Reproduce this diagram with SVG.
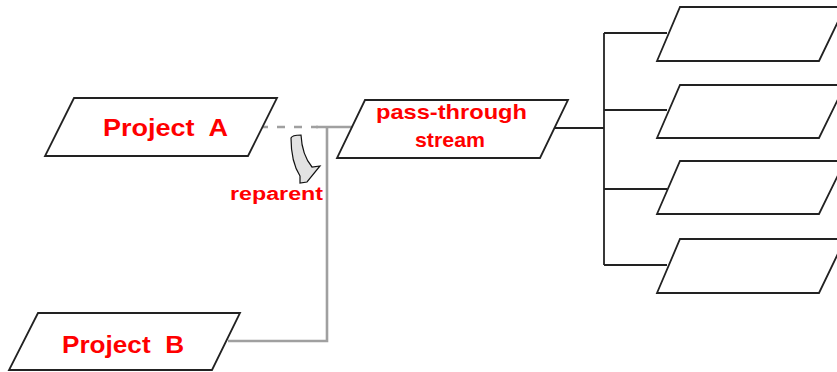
<svg xmlns="http://www.w3.org/2000/svg" width="837" height="372" viewBox="0 0 837 372">
<style>
.box{fill:#fff;stroke:#222;stroke-width:1.8}
.lbl{font-family:"Liberation Sans",Arial,sans-serif;font-weight:bold;fill:#ff0000;white-space:pre}
.blk{fill:none;stroke:#222;stroke-width:1.8}
.gry{fill:none;stroke:#a0a0a0;stroke-width:2.6}
</style>
<rect width="837" height="372" fill="#fff"/>
<g id="connectors">
<path class="gry" d="M260,127 H318" stroke-dasharray="8,9"/>
<path class="gry" d="M316,127 H357"/>
<path class="gry" d="M228,341 H327 V127"/>
<path class="blk" d="M553,128 H604"/>
<path class="blk" d="M604,33 V265"/>
<path class="blk" d="M604,33 H667 M604,110 H667 M604,189 H667 M604,265 H667"/>
</g>
<g id="reparent-arrow">
<path d="M291,138 Q292,135 301,135 Q302,155 312,167 L320,166 L307,182 L300,183 L300,176 Q291,162 291,138 Z" fill="#e2e2e2" stroke="#111" stroke-width="1.2"/>
<text class="lbl" x="230" y="200" font-size="18" textLength="93" lengthAdjust="spacingAndGlyphs">reparent</text>
</g>
<g id="projectA">
<polygon class="box" points="74,98 277,98 248,156 45,156"/>
<text class="lbl" x="103" y="136" font-size="24" textLength="125" lengthAdjust="spacingAndGlyphs" xml:space="preserve">Project  A</text>
</g>
<g id="projectB">
<polygon class="box" points="38,313 240,313 212,370 9,370"/>
<text class="lbl" x="62" y="353" font-size="24" textLength="122" lengthAdjust="spacingAndGlyphs" xml:space="preserve">Project  B</text>
</g>
<g id="passthrough">
<polygon class="box" points="365,100 568,100 540,158 337,158"/>
<text class="lbl" x="376" y="119" font-size="21" textLength="151" lengthAdjust="spacingAndGlyphs">pass-through</text>
<text class="lbl" x="415" y="147" font-size="21" textLength="70" lengthAdjust="spacingAndGlyphs">stream</text>
</g>
<g id="out1"><polygon class="box" points="680,7 845,7 819,61 657,61"/></g>
<g id="out2"><polygon class="box" points="680,85 845,85 819,138 657,138"/></g>
<g id="out3"><polygon class="box" points="680,161 845,161 819,214 657,214"/></g>
<g id="out4"><polygon class="box" points="680,239 845,239 819,293 657,293"/></g>
</svg>
